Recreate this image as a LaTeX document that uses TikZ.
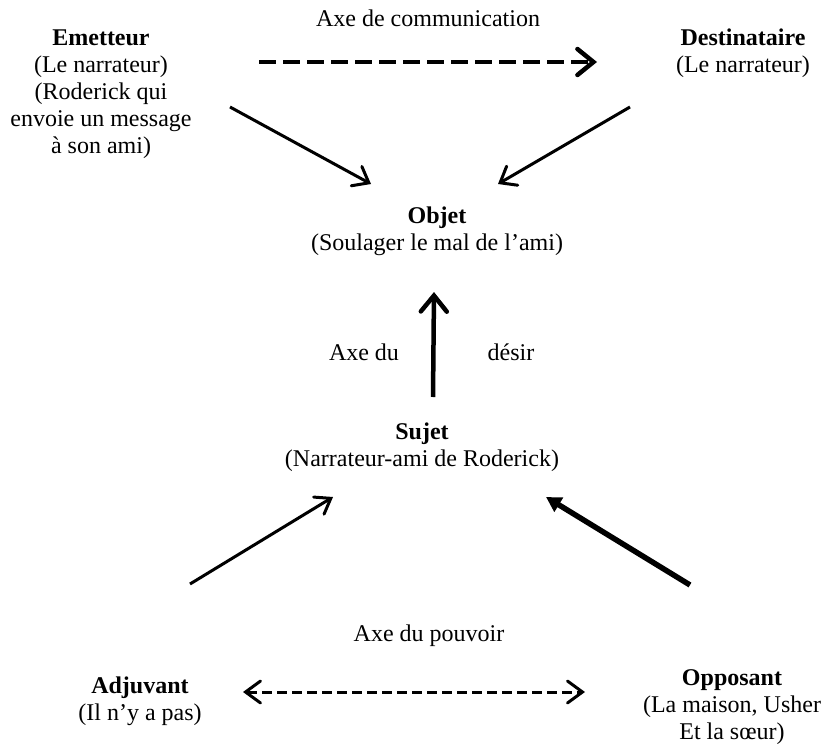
\documentclass[tikz,border=0pt]{standalone}
\usepackage{fontspec}
\setmainfont{Liberation Serif}
\usetikzlibrary{arrows.meta}
\begin{document}
\begin{tikzpicture}[x=1pt,y=-1pt,
  lbl/.style={inner sep=0pt, align=center, anchor=base, font=\fontsize{24}{27}\selectfont}]
\useasboundingbox (0,0) rectangle (822,744);
% nodes (anchor = baseline of last line)
\node[lbl] (em) at (101,153) {\textbf{Emetteur}\\(Le narrateur)\\(Roderick qui\\envoie un message\\à son ami)};
\node[lbl] (de) at (743,72) {\textbf{Destinataire}\\(Le narrateur)};
\node[lbl] (axc) at (428,27) {Axe de communication};
\node[lbl] (ob) at (437,250) {\textbf{Objet}\\(Soulager le mal de l’ami)};
\node[lbl] (axd1) at (364,360) {Axe du};
\node[lbl] (axd2) at (511,360) {désir};
\node[lbl] (su) at (422,466) {\textbf{Sujet}\\(Narrateur-ami de Roderick)};
\node[lbl] (axp) at (429,641) {Axe du pouvoir};
\node[lbl] (ad) at (140,720) {\textbf{Adjuvant}\\(Il n’y a pas)};
\node[lbl] (op) at (732,739) {\textbf{Opposant}\\(La maison, Usher\\Et la sœur)};
% connector endpoints
\coordinate (c1s) at (259,62);  \coordinate (c1e) at (597,62);
\coordinate (emo) at (230,107); \coordinate (emi) at (371,184);
\coordinate (deo) at (630,107); \coordinate (dei) at (498,184);
\coordinate (suo) at (433,397); \coordinate (obi) at (434,292);
\coordinate (ado) at (190,584); \coordinate (sui1) at (333,497);
\coordinate (opo) at (690,585); \coordinate (sui2) at (546,497);
\coordinate (p1) at (243,692);  \coordinate (p2) at (585,692);
% connectors
\draw[line width=4.5pt, dash pattern=on 17pt off 7pt,
  -{Straight Barb[length=16pt,width=26pt,line cap=round]}] (c1s) -- (c1e);
\draw[line width=3pt, -{Straight Barb[length=14pt,width=22pt,line cap=round]}] (emo) -- (emi);
\draw[line width=3pt, -{Straight Barb[length=14pt,width=22pt,line cap=round]}] (deo) -- (dei);
\draw[line width=4.5pt, -{Straight Barb[length=16pt,width=26pt,line cap=round]}] (suo) -- (obi);
\draw[line width=3pt, -{Straight Barb[length=14pt,width=20pt,line cap=round]}] (ado) -- (sui1);
\draw[line width=5.5pt, -{Triangle[length=15pt,width=16pt]}] (opo) -- (sui2);
\draw[line width=3pt, dash pattern=on 10pt off 5pt,
  {Straight Barb[length=15pt,width=22pt,line cap=round]}-{Straight Barb[length=15pt,width=22pt,line cap=round]}] (p1) -- (p2);
\end{tikzpicture}
\end{document}
